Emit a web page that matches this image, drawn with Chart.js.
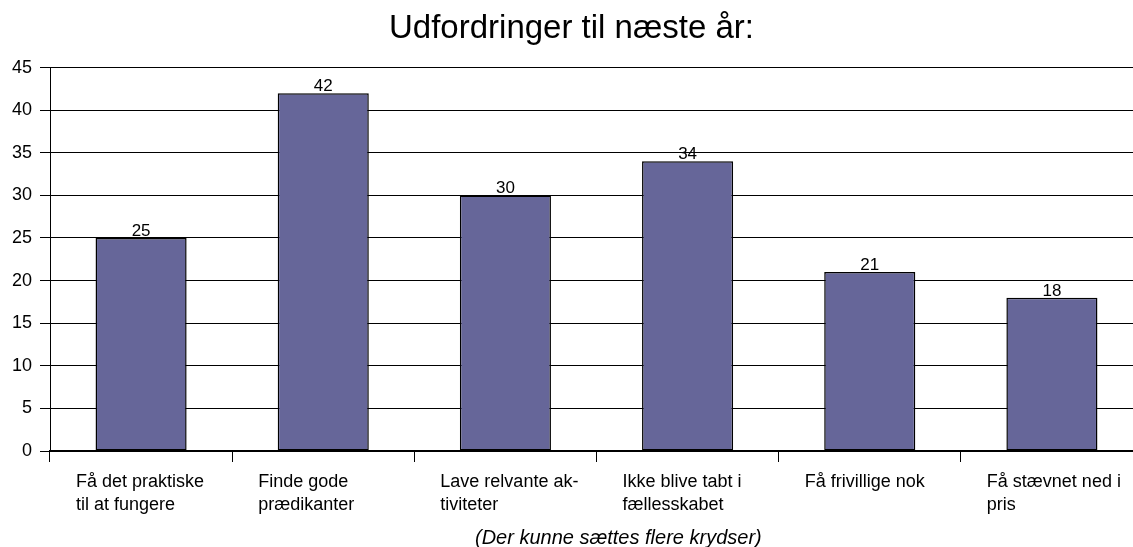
<!DOCTYPE html>
<html>
<head>
<meta charset="utf-8">
<script src="https://cdn.jsdelivr.net/npm/chart.js@4.4.0/dist/chart.umd.min.js"></script>
<style>
  html, body { margin: 0; padding: 0; background: #fff; overflow: hidden; }
  #wrap { position: relative; width: 1143px; height: 547px; }
</style>
</head>
<body>
<div id="wrap"><canvas id="chart"></canvas></div>
<script>
const categories = [
  ["Få det praktiske", "til at fungere"],
  ["Finde gode", "prædikanter"],
  ["Lave relvante ak-", "tiviteter"],
  ["Ikke blive tabt i", "fællesskabet"],
  ["Få frivillige nok"],
  ["Få stævnet ned i", "pris"]
];
const answers = [25, 42, 30, 34, 21, 18];
const chartTitle = "Udfordringer til næste år:";
const footnote = "(Der kunne sættes flere krydser)";

const FONT = "'Liberation Sans', Arial, sans-serif";

// value labels above bars, category labels (left aligned) and the footnote
const extraText = {
  id: "extraText",
  afterDraw(chart) {
    const ctx = chart.ctx;
    const meta = chart.getDatasetMeta(0);
    const xs = chart.scales.x;
    const area = chart.chartArea;
    ctx.save();
    ctx.fillStyle = "#000";

    ctx.font = "17px " + FONT;
    ctx.textAlign = "center";
    ctx.textBaseline = "alphabetic";
    meta.data.forEach((bar, i) => {
      ctx.fillText(answers[i], bar.x, bar.y - 2);
    });

    const half = (xs.getPixelForTick(1) - xs.getPixelForTick(0)) / 2;
    ctx.font = "18px " + FONT;
    ctx.textAlign = "left";
    ctx.textBaseline = "middle";
    categories.forEach((lines, i) => {
      const x = xs.getPixelForTick(i) - half + 26;
      lines.forEach((line, j) => {
        ctx.fillText(line, x, area.bottom + 31 + j * 23);
      });
    });

    ctx.font = "italic 20px " + FONT;
    ctx.textAlign = "center";
    ctx.fillText(footnote, area.left + area.width * 0.52, area.bottom + 87);
    ctx.restore();
  }
};

const ctx = document.getElementById("chart").getContext("2d");
new Chart(ctx, {
  type: "bar",
  data: {
    labels: categories,
    datasets: [{
      data: answers,
      backgroundColor: "#666699",
      borderColor: "#000",
      borderWidth: 1.5,
      borderSkipped: false,
      barPercentage: 0.5,
      categoryPercentage: 1
    }]
  },
  options: {
    responsive: true,
    maintainAspectRatio: false,
    animation: false,
    layout: { padding: 0 },
    scales: {
      x: {
        offset: true,
        grid: {
          offset: true,
          drawOnChartArea: false,
          drawTicks: true,
          tickLength: 11,
          color: "#000"
        },
        border: { color: "#000", width: 2 },
        ticks: { display: false },
        afterFit(scale) { scale.height = 96; }
      },
      y: {
        min: 0,
        max: 45,
        ticks: {
          stepSize: 5,
          color: "#000",
          font: { family: FONT, size: 18 },
          padding: 8
        },
        grid: {
          color: "#000",
          lineWidth: 1,
          tickLength: 10
        },
        border: { color: "#000", width: 1 },
        afterFit(scale) { scale.width = 50; }
      }
    },
    plugins: {
      legend: { display: false },
      tooltip: { enabled: false },
      title: {
        display: true,
        text: chartTitle,
        color: "#000",
        font: { family: FONT, size: 33, weight: "normal" },
        padding: { top: 9, bottom: 19 }
      }
    }
  },
  plugins: [extraText]
});
</script>
</body>
</html>
